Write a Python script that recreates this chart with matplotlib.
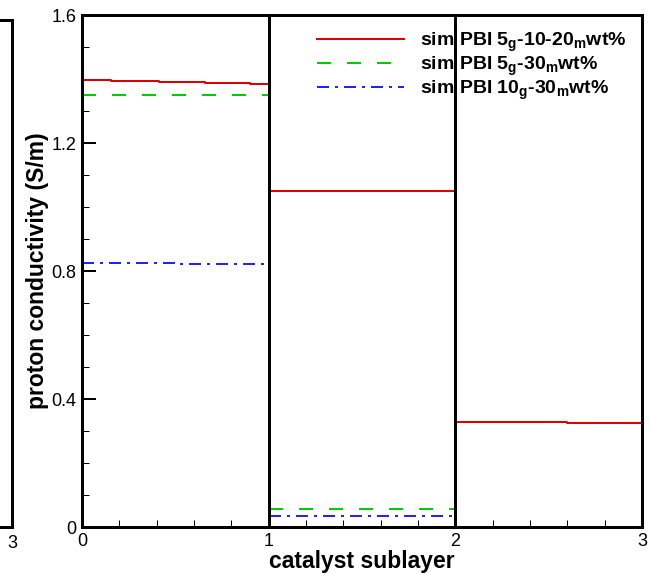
import matplotlib
matplotlib.use("Agg")
import matplotlib.pyplot as plt
from matplotlib.ticker import MultipleLocator

plt.rcParams['font.family'] = ['Liberation Sans', 'DejaVu Sans']
plt.rcParams['lines.scale_dashes'] = False
plt.rcParams['mathtext.fontset'] = 'custom'
plt.rcParams['mathtext.rm'] = 'Liberation Sans:bold'
plt.rcParams['mathtext.it'] = 'Liberation Sans:bold'
plt.rcParams['mathtext.bf'] = 'Liberation Sans:bold'

# data
red_x1 = [0.0, 0.155, 0.155, 0.41, 0.41, 0.657, 0.657, 0.9, 0.9, 1.0]
red_y1 = [1.397, 1.397, 1.394, 1.394, 1.390, 1.390, 1.387, 1.387, 1.384, 1.384]
red_x2 = [1.0, 2.0]
red_y2 = [1.05, 1.05]
red_x3 = [2.0, 2.6, 2.6, 3.0]
red_y3 = [0.327, 0.327, 0.324, 0.324]

green_x1 = [0.0, 1.0]
green_y1 = [1.35, 1.35]
green_x2 = [1.0, 2.0]
green_y2 = [0.055, 0.055]

blue_x1 = [0.0, 0.5, 0.5, 1.0]
blue_y1 = [0.824, 0.824, 0.821, 0.821]
blue_x2 = [1.0, 2.0]
blue_y2 = [0.033, 0.033]

labels = [r"sim PBI 5$_{\mathrm{g}}$-10-20$_{\mathrm{m}}$wt%",
          r"sim PBI 5$_{\mathrm{g}}$-30$_{\mathrm{m}}$wt%",
          r"sim PBI 10$_{\mathrm{g}}$-30$_{\mathrm{m}}$wt%"]

W, H = 650, 574
fig = plt.figure(figsize=(W/100, H/100), dpi=100)

px = 0.72  # points per pixel
lw = 2.0 * px

ax = fig.add_axes([82/W, 1-527/H, (642-82)/W, (527-15)/H])

red = '#dd0000'
green = '#00cc00'
blue = '#2222ff'

ax.plot(red_x1, red_y1, color=red, lw=lw, label=labels[0])
ax.plot(red_x2, red_y2, color=red, lw=lw)
ax.plot(red_x3, red_y3, color=red, lw=lw)

gdash = (0, (14*px, 16*px))
ax.plot(green_x1, green_y1, color=green, lw=lw, linestyle=gdash, label=labels[1])
ax.plot(green_x2, green_y2, color=green, lw=lw, linestyle=gdash)

bdash = (0, (12*px, 6*px, 3*px, 6*px))
ax.plot(blue_x1, blue_y1, color=blue, lw=lw, linestyle=bdash, label=labels[2])
ax.plot(blue_x2, blue_y2, color=blue, lw=lw, linestyle=bdash)

for xv in [1, 2]:
    ax.axvline(xv, color='black', lw=3*px, zorder=6)

ax.set_xlim(0, 3)
ax.set_ylim(0, 1.6)
ax.xaxis.set_major_locator(MultipleLocator(1))
ax.xaxis.set_minor_locator(MultipleLocator(0.2))
ax.yaxis.set_minor_locator(MultipleLocator(0.1))
ax.set_yticks([0, 0.4, 0.8, 1.2, 1.6])
ax.set_yticklabels(['0', '0.4', '0.8', '1.2', '1.6'])
ax.tick_params(which='major', direction='in', length=14*px, width=2*px, labelsize=13, pad=4)
ax.tick_params(which='minor', direction='in', length=7*px, width=1*px)
for s in ax.spines.values():
    s.set_linewidth(3*px)

ax.set_xlabel('catalyst sublayer', fontsize=16.5, fontweight='bold', labelpad=0)
ax.set_ylabel('proton conductivity (S/m)', fontsize=16.5, fontweight='bold', labelpad=2)

leg = ax.legend(loc='upper right', bbox_to_anchor=(1.0, 1.0), frameon=False,
                prop={'weight': 'bold', 'size': 14}, handlelength=4.5,
                handletextpad=0.8, labelspacing=0.05, borderaxespad=0.4)
leg.set_zorder(1)

# partial neighbouring panel on the far left
ax2 = fig.add_axes([-0.5, 1-527/H, 0.5 + 12/W, (527-20)/H])
ax2.set_xlim(0, 3)
ax2.set_ylim(0, 1.6)
ax2.set_xticks([3])
ax2.set_xticklabels(['3'])
ax2.set_yticks([])
ax2.tick_params(direction='in', length=0, labelsize=13, pad=6)
for s in ax2.spines.values():
    s.set_linewidth(3*px)

fig.savefig('out.png', dpi=100)
